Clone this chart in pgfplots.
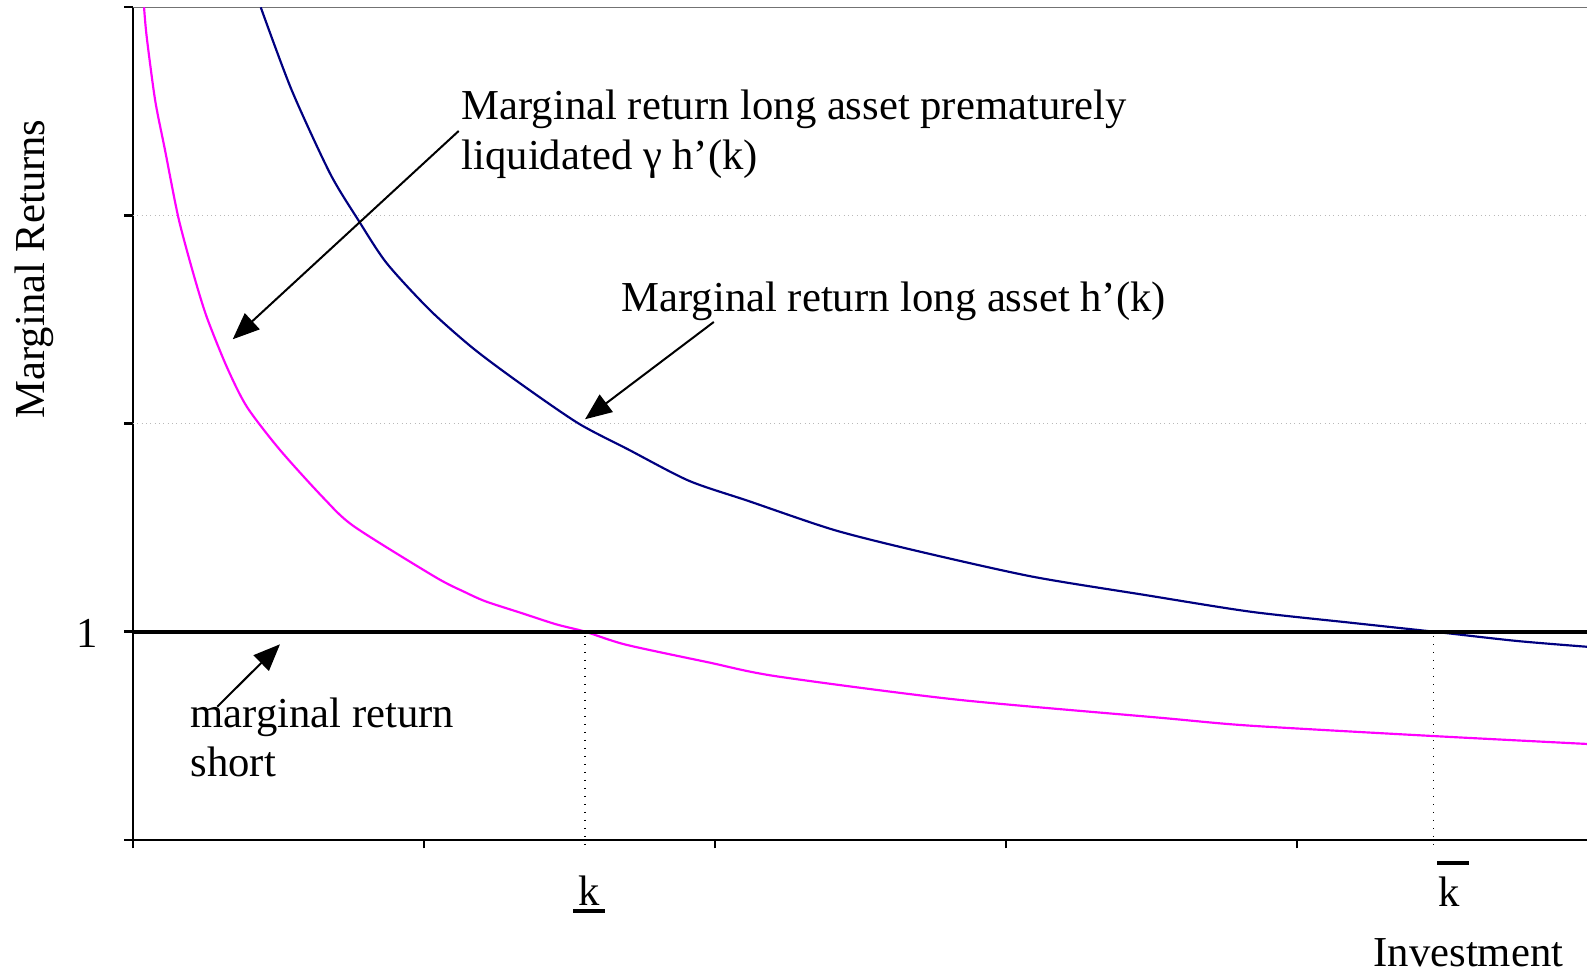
\documentclass[border=0pt]{standalone}
\usepackage{fontspec}
\setmainfont{Liberation Serif}
\usepackage{pgfplots}
\pgfplotsset{compat=1.18}
\usetikzlibrary{arrows.meta}
\definecolor{navyline}{RGB}{0,0,128}
\definecolor{magline}{RGB}{255,0,255}
\begin{document}
\begin{tikzpicture}
\useasboundingbox (0,0) rectangle (476.1pt,293.1pt);
\begin{axis}[
  at={(39.9pt,41.19pt)}, anchor=south west,
  scale only axis, width=436.2pt, height=249.72pt,
  xmin=0, xmax=4.997, ymin=0, ymax=4,
  axis x line*=bottom, axis y line*=left,
  axis line style={line width=0.7pt,-},
  xtick={0,1,2,3,4}, ytick={0,1,2,3,4},
  xticklabels={}, yticklabels={},
  tick align=outside,
  major tick length=2.6pt,
  every tick/.style={black,line width=0.7pt},
]
% gridlines
\addplot[gray!55, line width=0.3pt, densely dotted] coordinates {(0,2) (4.997,2)};
\addplot[gray!55, line width=0.3pt, densely dotted] coordinates {(0,3) (4.997,3)};
\addplot[gray!110, line width=0.6pt] coordinates {(0,4) (4.997,4)};
% h'(k)
\addplot[navyline, line width=0.65pt, smooth, tension=0.45] coordinates {
(0.439,4.0) (0.545,3.603) (0.677,3.202) (0.774,2.978)
(0.872,2.770) (1.021,2.544) (1.169,2.361) (1.330,2.193) (1.530,2.001) (1.705,1.873)
(1.910,1.725) (2.114,1.628) (2.410,1.488) (2.705,1.384) (3.091,1.264) (3.477,1.176)
(3.838,1.096) (4.182,1.043) (4.467,1.0) (4.755,0.955) (4.997,0.927)};
% gamma h'(k)
\addplot[magline, line width=0.65pt, smooth, tension=0.45] coordinates {
(0.038,4.0) (0.047,3.859) (0.076,3.554) (0.110,3.314) (0.156,2.989) (0.207,2.722)
(0.253,2.513) (0.322,2.273) (0.391,2.081) (0.505,1.873) (0.656,1.640)
(0.760,1.505) (1.039,1.262) (1.140,1.190) (1.212,1.145) (1.333,1.090) (1.454,1.035)
(1.553,1.0) (1.694,0.937) (1.978,0.852) (2.212,0.785) (2.825,0.674)
(3.529,0.586) (3.838,0.548) (4.469,0.498) (4.997,0.460)};
% marginal return short
\addplot[black, line width=1.2pt] coordinates {(0,1) (4.997,1)};
\end{axis}
\begin{scope}[x=0.3pt,y=-0.3pt,yshift=293.1pt]
\fontsize{12.8}{15.2}\selectfont
% dotted verticals
\draw[black, dotted, line width=0.4pt] (585,636) -- (585,848);
\draw[black, dotted, line width=0.4pt] (1433.3,636) -- (1433.3,848);
% texts
\node[anchor=base west, inner sep=0pt] at (461,120) {Marginal return long asset prematurely};
\node[anchor=base west, inner sep=0pt] at (461,170) {liquidated γ h’(k)};
\node[anchor=base west, inner sep=0pt] at (621,312) {Marginal return long asset h’(k)};
\node[anchor=base west, inner sep=0pt] at (190,727.7) {marginal return};
\node[anchor=base west, inner sep=0pt] at (190,776.7) {short};
\node[anchor=base, inner sep=0pt] at (87.3,647.7) {1};
\node[anchor=base, inner sep=0pt] at (589,906) {k};
\draw[line width=1.2pt] (573,911.5) -- (605,911.5);
\node[anchor=base, inner sep=0pt] at (1449,906.7) {k};
\draw[line width=1.1pt] (1437,863.3) -- (1469,863.3);
\node[anchor=base west, inner sep=0pt] at (1373,967) {Investment};
\node[anchor=base, inner sep=0pt, rotate=90] at (44,269) {Marginal Returns};
% arrows
\draw[line width=0.6pt, -{Triangle[length=8pt,width=6.5pt]}] (458.7,131) -- (232.7,339.3);
\draw[line width=0.6pt, -{Triangle[length=8pt,width=6.5pt]}] (713.8,322) -- (585,419.3);
\draw[line width=0.6pt, -{Triangle[length=8pt,width=6.5pt]}] (217.3,706.7) -- (280,644.3);
\end{scope}
\end{tikzpicture}
\end{document}
